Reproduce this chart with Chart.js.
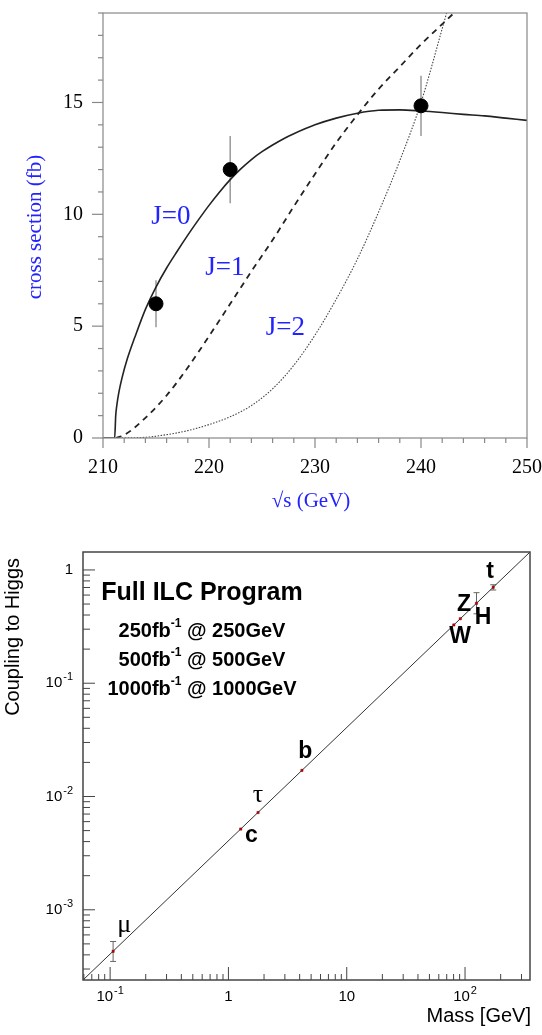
<!DOCTYPE html>
<html>
<head>
<meta charset="utf-8">
<script src="https://cdn.jsdelivr.net/npm/chart.js@4.4.1/dist/chart.umd.min.js"></script>
<style>
  html, body { margin: 0; padding: 0; background: #fff; }
  #wrap1 { position: absolute; left: 0; top: 0; width: 542px; height: 540px; }
  #wrap2 { position: absolute; left: 0; top: 540px; width: 542px; height: 495px; }
</style>
</head>
<body>
<div id="wrap1"><canvas id="xsec"></canvas></div>
<div id="wrap2"><canvas id="coup"></canvas></div>
<script>
// ---- top panel: threshold scan ----
const j0X = [210, 211.1, 211.2, 211.3, 211.5, 211.8, 212.3, 213, 214, 215, 216, 217, 218, 219, 220, 221, 222, 223, 224, 225, 226, 227, 228, 230, 232, 234, 236, 238, 240, 242, 244, 246, 248, 250];
const j0Y = [0, 0, 1.0, 1.45, 2.05, 2.7, 3.55, 4.5, 5.75, 6.75, 7.6, 8.35, 9.07, 9.75, 10.4, 11.0, 11.55, 12.03, 12.45, 12.8, 13.1, 13.37, 13.6, 14.0, 14.3, 14.52, 14.65, 14.67, 14.62, 14.55, 14.47, 14.4, 14.3, 14.2];
const j1X = [211.2, 212, 214, 216, 218, 220, 222, 224, 226, 228, 230, 232, 234, 236, 238, 240, 242, 244];
const j1Y = [0, 0.13, 0.9, 1.9, 3.15, 4.55, 6.0, 7.45, 8.85, 10.35, 11.8, 13.2, 14.45, 15.6, 16.6, 17.6, 18.5, 19.4];
const j2X = [211.2, 214, 216, 218, 220, 222, 224, 226, 228, 230, 232, 234, 236, 238, 240, 242, 243];
const j2Y = [0, 0.03, 0.15, 0.33, 0.6, 0.95, 1.45, 2.2, 3.25, 4.6, 6.2, 8.0, 10.1, 12.4, 15.0, 18.3, 20.0];
const measX = [215, 222, 240];
const measY = [6.0, 12.0, 14.85];
const measErr = [1.05, 1.5, 1.35];
const jNames = ['J=0', 'J=1', 'J=2'];
const jNameX = [216.4, 221.5, 227.2];
const jNameY = [9.9, 7.6, 4.9];

// ---- bottom panel: couplings vs mass ----
const particles = ['μ', 'c', 'τ', 'b', 'W', 'Z', 'H', 't'];
const massGeV = [0.106, 1.27, 1.78, 4.18, 80.4, 91.2, 125, 173];
const coupling = [4.3e-4, 5.16e-3, 7.22e-3, 0.0170, 0.327, 0.371, 0.508, 0.703];
const coupLo = [3.5e-4, 5.05e-3, 7.1e-3, 0.0167, 0.324, 0.368, 0.41, 0.665];
const coupHi = [5.25e-4, 5.27e-3, 7.35e-3, 0.0173, 0.330, 0.374, 0.63, 0.74];
const partLabelX = [0.1316, 1.56, 1.78, 4.46, 91, 98, 142, 163];
const partLabelY = [7.35e-4, 4.48e-3, 1.03e-2, 2.47e-2, 0.256, 0.49, 0.376, 0.957];
const fitX = [0.059, 354];
const fitY = [2.4e-4, 1.44];
const massTicks = [0.1, 1, 10, 100];
const coupTicks = [1e-3, 1e-2, 1e-1, 1];
const programLines = [['250', '250GeV'], ['500', '500GeV'], ['1000', '1000GeV']];

const BLUE = '#2323ff';

function line(ctx, x1, y1, x2, y2) {
  ctx.beginPath(); ctx.moveTo(x1, y1); ctx.lineTo(x2, y2); ctx.stroke();
}

// top panel decorations
const xsecDecor = {
  id: 'xsecDecor',
  beforeDatasetsDraw(chart) {
    const { ctx, scales: { x, y } } = chart;
    ctx.save();
    ctx.strokeStyle = '#999';
    ctx.lineWidth = 1.5;
    measX.forEach((m, i) => {
      const px = x.getPixelForValue(m);
      line(ctx, px, y.getPixelForValue(measY[i] - measErr[i]), px, y.getPixelForValue(measY[i] + measErr[i]));
    });
    ctx.restore();
  },
  afterDraw(chart) {
    const { ctx, chartArea: a, scales: { x, y } } = chart;
    ctx.save();
    ctx.strokeStyle = '#888';
    ctx.lineWidth = 1.2;
    ctx.strokeRect(a.left, a.top, a.right - a.left, a.bottom - a.top);
    for (let v = 0; v <= 19; v++) {
      const py = y.getPixelForValue(v);
      line(ctx, a.left - (v % 5 === 0 ? 11 : 5), py, a.left, py);
    }
    for (let v = 210; v <= 250; v += 2) {
      const px = x.getPixelForValue(v);
      line(ctx, px, a.bottom, px, a.bottom + (v % 10 === 0 ? 10 : 5));
    }
    ctx.fillStyle = BLUE;
    ctx.textAlign = 'center';
    ctx.textBaseline = 'middle';
    ctx.font = '27px "Liberation Serif"';
    jNames.forEach((t, i) => ctx.fillText(t, x.getPixelForValue(jNameX[i]), y.getPixelForValue(jNameY[i])));
    ctx.font = '21px "Liberation Serif"';
    ctx.fillText('√s (GeV)', 311, 501);
    ctx.translate(35, 227);
    ctx.rotate(-Math.PI / 2);
    ctx.fillText('cross section (fb)', 0, 0);
    ctx.restore();
  }
};

// draws 10^n labels with a raised exponent
function powLabel(ctx, v, px, py, align) {
  const e = Math.round(Math.log10(v));
  const base = e === 0 ? '1' : '10';
  const sup = (e === 0 || e === 1) ? '' : String(e);
  ctx.font = '15px "Liberation Sans"';
  const wb = ctx.measureText(base).width;
  ctx.font = '11px "Liberation Sans"';
  const ws = sup ? ctx.measureText(sup).width + 1 : 0;
  const w = wb + ws;
  let left = align === 'right' ? px - w : px - w / 2;
  ctx.textAlign = 'left';
  ctx.textBaseline = 'middle';
  ctx.font = '15px "Liberation Sans"';
  ctx.fillText(base, left, py);
  if (sup) {
    ctx.font = '11px "Liberation Sans"';
    ctx.fillText(sup, left + wb + 1, py - 6);
  }
}

const coupDecor = {
  id: 'coupDecor',
  beforeDatasetsDraw(chart) {
    const { ctx, scales: { x, y } } = chart;
    ctx.save();
    ctx.strokeStyle = '#666';
    ctx.lineWidth = 1;
    massGeV.forEach((m, i) => {
      const px = x.getPixelForValue(m);
      const lo = y.getPixelForValue(coupLo[i]);
      const hi = y.getPixelForValue(coupHi[i]);
      if (lo - hi < 4) return;
      line(ctx, px, lo, px, hi);
      line(ctx, px - 3, lo, px + 3, lo);
      line(ctx, px - 3, hi, px + 3, hi);
    });
    ctx.restore();
  },
  afterDraw(chart) {
    const { ctx, chartArea: a, scales: { x, y } } = chart;
    ctx.save();
    ctx.strokeStyle = '#444';
    ctx.lineWidth = 1.5;
    ctx.strokeRect(a.left, a.top, a.right - a.left, a.bottom - a.top);
    ctx.lineWidth = 1;
    for (let d = -4; d <= 2; d++) {
      for (let k = 1; k <= 9; k++) {
        const v = k * Math.pow(10, d);
        if (v >= x.min && v <= x.max) {
          const px = x.getPixelForValue(v);
          line(ctx, px, a.bottom, px, a.bottom - (k === 1 ? 13 : 6));
        }
        if (v >= y.min && v <= y.max) {
          const py = y.getPixelForValue(v);
          line(ctx, a.left, py, a.left + (k === 1 ? 12 : 7), py);
        }
      }
    }
    ctx.fillStyle = '#000';
    massTicks.forEach(v => powLabel(ctx, v, x.getPixelForValue(v), 457, 'center'));
    coupTicks.forEach(v => powLabel(ctx, v, 73, y.getPixelForValue(v), 'right'));

    // particle names
    ctx.textAlign = 'center';
    ctx.textBaseline = 'middle';
    particles.forEach((p, i) => {
      const greek = p === 'μ' || p === 'τ';
      ctx.font = greek ? '26px "Liberation Serif"' : 'bold 23px "Liberation Sans"';
      ctx.fillText(p, x.getPixelForValue(partLabelX[i]), y.getPixelForValue(partLabelY[i]));
    });

    // program text
    ctx.font = 'bold 25px "Liberation Sans"';
    ctx.fillText('Full ILC Program', 202, 53);
    programLines.forEach((l, i) => {
      const cy = 91 + i * 29;
      const a1 = l[0] + 'fb', sup = '-1', a2 = ' @ ' + l[1];
      ctx.font = 'bold 20px "Liberation Sans"';
      const w1 = ctx.measureText(a1).width, w2 = ctx.measureText(a2).width;
      ctx.font = 'bold 12px "Liberation Sans"';
      const ws = ctx.measureText(sup).width;
      let left = 202 - (w1 + ws + w2) / 2;
      ctx.textAlign = 'left';
      ctx.font = 'bold 20px "Liberation Sans"';
      ctx.fillText(a1, left, cy);
      ctx.font = 'bold 12px "Liberation Sans"';
      ctx.fillText(sup, left + w1, cy - 7);
      ctx.font = 'bold 20px "Liberation Sans"';
      ctx.fillText(a2, left + w1 + ws, cy);
    });

    // axis titles
    ctx.font = '20px "Liberation Sans"';
    ctx.textAlign = 'right';
    ctx.fillText('Mass [GeV]', 531, 476);
    ctx.translate(13, 18);
    ctx.rotate(-Math.PI / 2);
    ctx.textAlign = 'right';
    ctx.fillText('Coupling to Higgs', 0, 0);
    ctx.restore();
  }
};

const serif = { family: 'Liberation Serif', size: 20 };

new Chart(document.getElementById('xsec'), {
  type: 'scatter',
  data: {
    datasets: [
      { label: 'data', data: measX.map((v, i) => ({ x: v, y: measY[i] })), pointRadius: 7, pointHoverRadius: 7, backgroundColor: '#000', borderColor: '#000', order: 0 },
      { type: 'line', label: 'J=0', data: j0X.map((v, i) => ({ x: v, y: j0Y[i] })), borderColor: '#222', borderWidth: 1.6, pointRadius: 0, cubicInterpolationMode: 'monotone', fill: false, order: 1 },
      { type: 'line', label: 'J=1', data: j1X.map((v, i) => ({ x: v, y: j1Y[i] })), borderColor: '#222', borderWidth: 1.8, borderDash: [6, 5], pointRadius: 0, cubicInterpolationMode: 'monotone', fill: false, order: 2 },
      { type: 'line', label: 'J=2', data: j2X.map((v, i) => ({ x: v, y: j2Y[i] })), borderColor: '#444', borderWidth: 1.1, borderDash: [1.5, 1.5], pointRadius: 0, cubicInterpolationMode: 'monotone', fill: false, order: 3 }
    ]
  },
  options: {
    responsive: true,
    maintainAspectRatio: false,
    animation: false,
    devicePixelRatio: 1,
    layout: { padding: { top: 13, right: 15, left: 0, bottom: 0 } },
    plugins: { legend: { display: false }, tooltip: { enabled: false } },
    scales: {
      x: {
        type: 'linear', min: 210, max: 250,
        grid: { display: false, drawTicks: false }, border: { display: false },
        ticks: { stepSize: 10, font: serif, color: '#000', padding: 18, maxRotation: 0 },
        afterFit(s) { s.height = 102; s.paddingLeft = 0; s.paddingRight = 0; }
      },
      y: {
        type: 'linear', min: 0, max: 19,
        grid: { display: false, drawTicks: false }, border: { display: false },
        ticks: { stepSize: 5, includeBounds: false, font: serif, color: '#000', padding: 20 },
        afterFit(s) { s.width = 103; s.paddingTop = 0; s.paddingBottom = 0; }
      }
    }
  },
  plugins: [xsecDecor]
});

new Chart(document.getElementById('coup'), {
  type: 'scatter',
  data: {
    datasets: [
      { label: 'points', data: massGeV.map((v, i) => ({ x: v, y: coupling[i] })), pointStyle: 'rect', pointRadius: 1.6, backgroundColor: '#c00000', borderColor: '#800000', borderWidth: 0.5, order: 0 },
      { type: 'line', label: 'fit', data: fitX.map((v, i) => ({ x: v, y: fitY[i] })), borderColor: '#333', borderWidth: 1, pointRadius: 0, fill: false, order: 1 }
    ]
  },
  options: {
    responsive: true,
    maintainAspectRatio: false,
    animation: false,
    devicePixelRatio: 1,
    layout: { padding: { top: 12, right: 12, left: 0, bottom: 0 } },
    plugins: { legend: { display: false }, tooltip: { enabled: false } },
    scales: {
      x: {
        type: 'logarithmic', min: 0.059, max: 354,
        grid: { display: false, drawTicks: false }, border: { display: false },
        ticks: { display: false },
        afterFit(s) { s.height = 55; }
      },
      y: {
        type: 'logarithmic', min: 2.4e-4, max: 1.44,
        grid: { display: false, drawTicks: false }, border: { display: false },
        ticks: { display: false },
        afterFit(s) { s.width = 83; }
      }
    }
  },
  plugins: [coupDecor]
});
</script>
</body>
</html>
